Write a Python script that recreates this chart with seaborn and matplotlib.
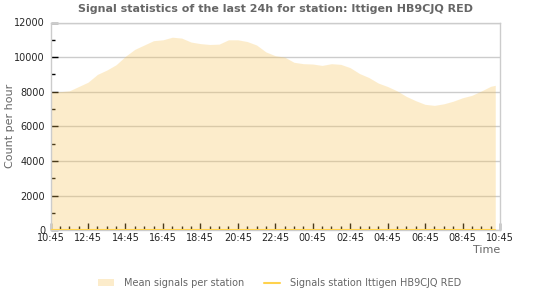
import numpy as np
import pandas as pd
import matplotlib
matplotlib.use("Agg")
import matplotlib.pyplot as plt
import seaborn as sns
from matplotlib.ticker import MultipleLocator

# Hours after 10:45, one value every 30 minutes (last bin ends at 10:30)
hours = [0, 0.5, 1, 1.5, 2, 2.5, 3, 3.5, 4, 4.5, 5, 5.5, 6, 6.5, 7, 7.5,
         8, 8.5, 9, 9.5, 10, 10.5, 11, 11.5, 12, 12.5, 13, 13.5, 14, 14.5,
         15, 15.5, 16, 16.5, 17, 17.5, 18, 18.5, 19, 19.5, 20, 20.5, 21,
         21.5, 22, 22.5, 23, 23.5, 23.75]
mean_signals = [8000, 8000, 8050, 8300, 8550, 9000, 9250, 9560, 10050, 10450,
                10700, 10950, 11000, 11150, 11100, 10870, 10780, 10730, 10750,
                11000, 11000, 10900, 10700, 10300, 10080, 10000, 9700, 9620,
                9600, 9520, 9620, 9580, 9390, 9050, 8820, 8500, 8300, 8050,
                7730, 7480, 7270, 7210, 7300, 7450, 7650, 7790, 8040, 8310, 8370]
station_signals = [0] * len(hours)

tick_labels = ["10:45", "12:45", "14:45", "16:45", "18:45", "20:45", "22:45",
               "00:45", "02:45", "04:45", "06:45", "08:45", "10:45"]

df = pd.DataFrame({"hour": hours, "mean": mean_signals, "station": station_signals})

sns.set_theme(style="white")
plt.rcParams["font.family"] = ["DejaVu Sans"]

fig = plt.figure(figsize=(5.5, 3.0), dpi=100)
ax = fig.add_axes([0.092, 0.233, 0.817, 0.692])

ax.yaxis.grid(True, color="#cccccc", linewidth=1)
ax.set_axisbelow(True)

fill_col = (248 / 255, 195 / 255, 85 / 255)
ax.fill_between(df["hour"], 0, df["mean"], color=fill_col, alpha=0.3,
                linewidth=0, zorder=2, label="Mean signals per station")
sns.lineplot(data=df, x="hour", y="station", ax=ax, color="#ffd24d",
             linewidth=1.5, zorder=3, label="Signals station Ittigen HB9CJQ RED")

ax.set_xlim(0, 24)
ax.set_ylim(0, 12000)
ax.set_xticks(np.arange(0, 25, 2))
ax.set_xticklabels(tick_labels)
ax.xaxis.set_minor_locator(MultipleLocator(0.5))
ax.yaxis.set_major_locator(MultipleLocator(2000))
ax.yaxis.set_minor_locator(MultipleLocator(1000))
ax.tick_params(axis="both", which="major", direction="in", length=5, width=1,
               color="black", labelsize=7, pad=2, left=True, bottom=True)
ax.tick_params(axis="y", which="major", pad=4)
ax.tick_params(axis="both", which="minor", direction="in", length=3, width=1,
               color="black", left=True, bottom=True)

for s in ax.spines.values():
    s.set_color("#cccccc")
    s.set_linewidth(1)

ax.set_xlabel("")
ax.set_ylabel("")
fig.text(10 / 550, 0.58, "Count per hour", rotation=90, ha="center", va="center",
         fontsize=8, color="#666666")
ax.text(1.0, -0.07, "Time", transform=ax.transAxes, ha="right", va="top",
        fontsize=8, color="#666666")

fig.suptitle("Signal statistics of the last 24h for station: Ittigen HB9CJQ RED",
             x=0.5, y=0.985, fontsize=8, fontweight="bold", color="#666666")

leg = ax.legend(loc="center", bbox_to_anchor=(0.51, -0.255), ncol=2,
                frameon=False, fontsize=7, labelcolor="#666666",
                handlelength=1.6, columnspacing=2.0, handletextpad=1.1)

fig.savefig("out.png", dpi=100)
